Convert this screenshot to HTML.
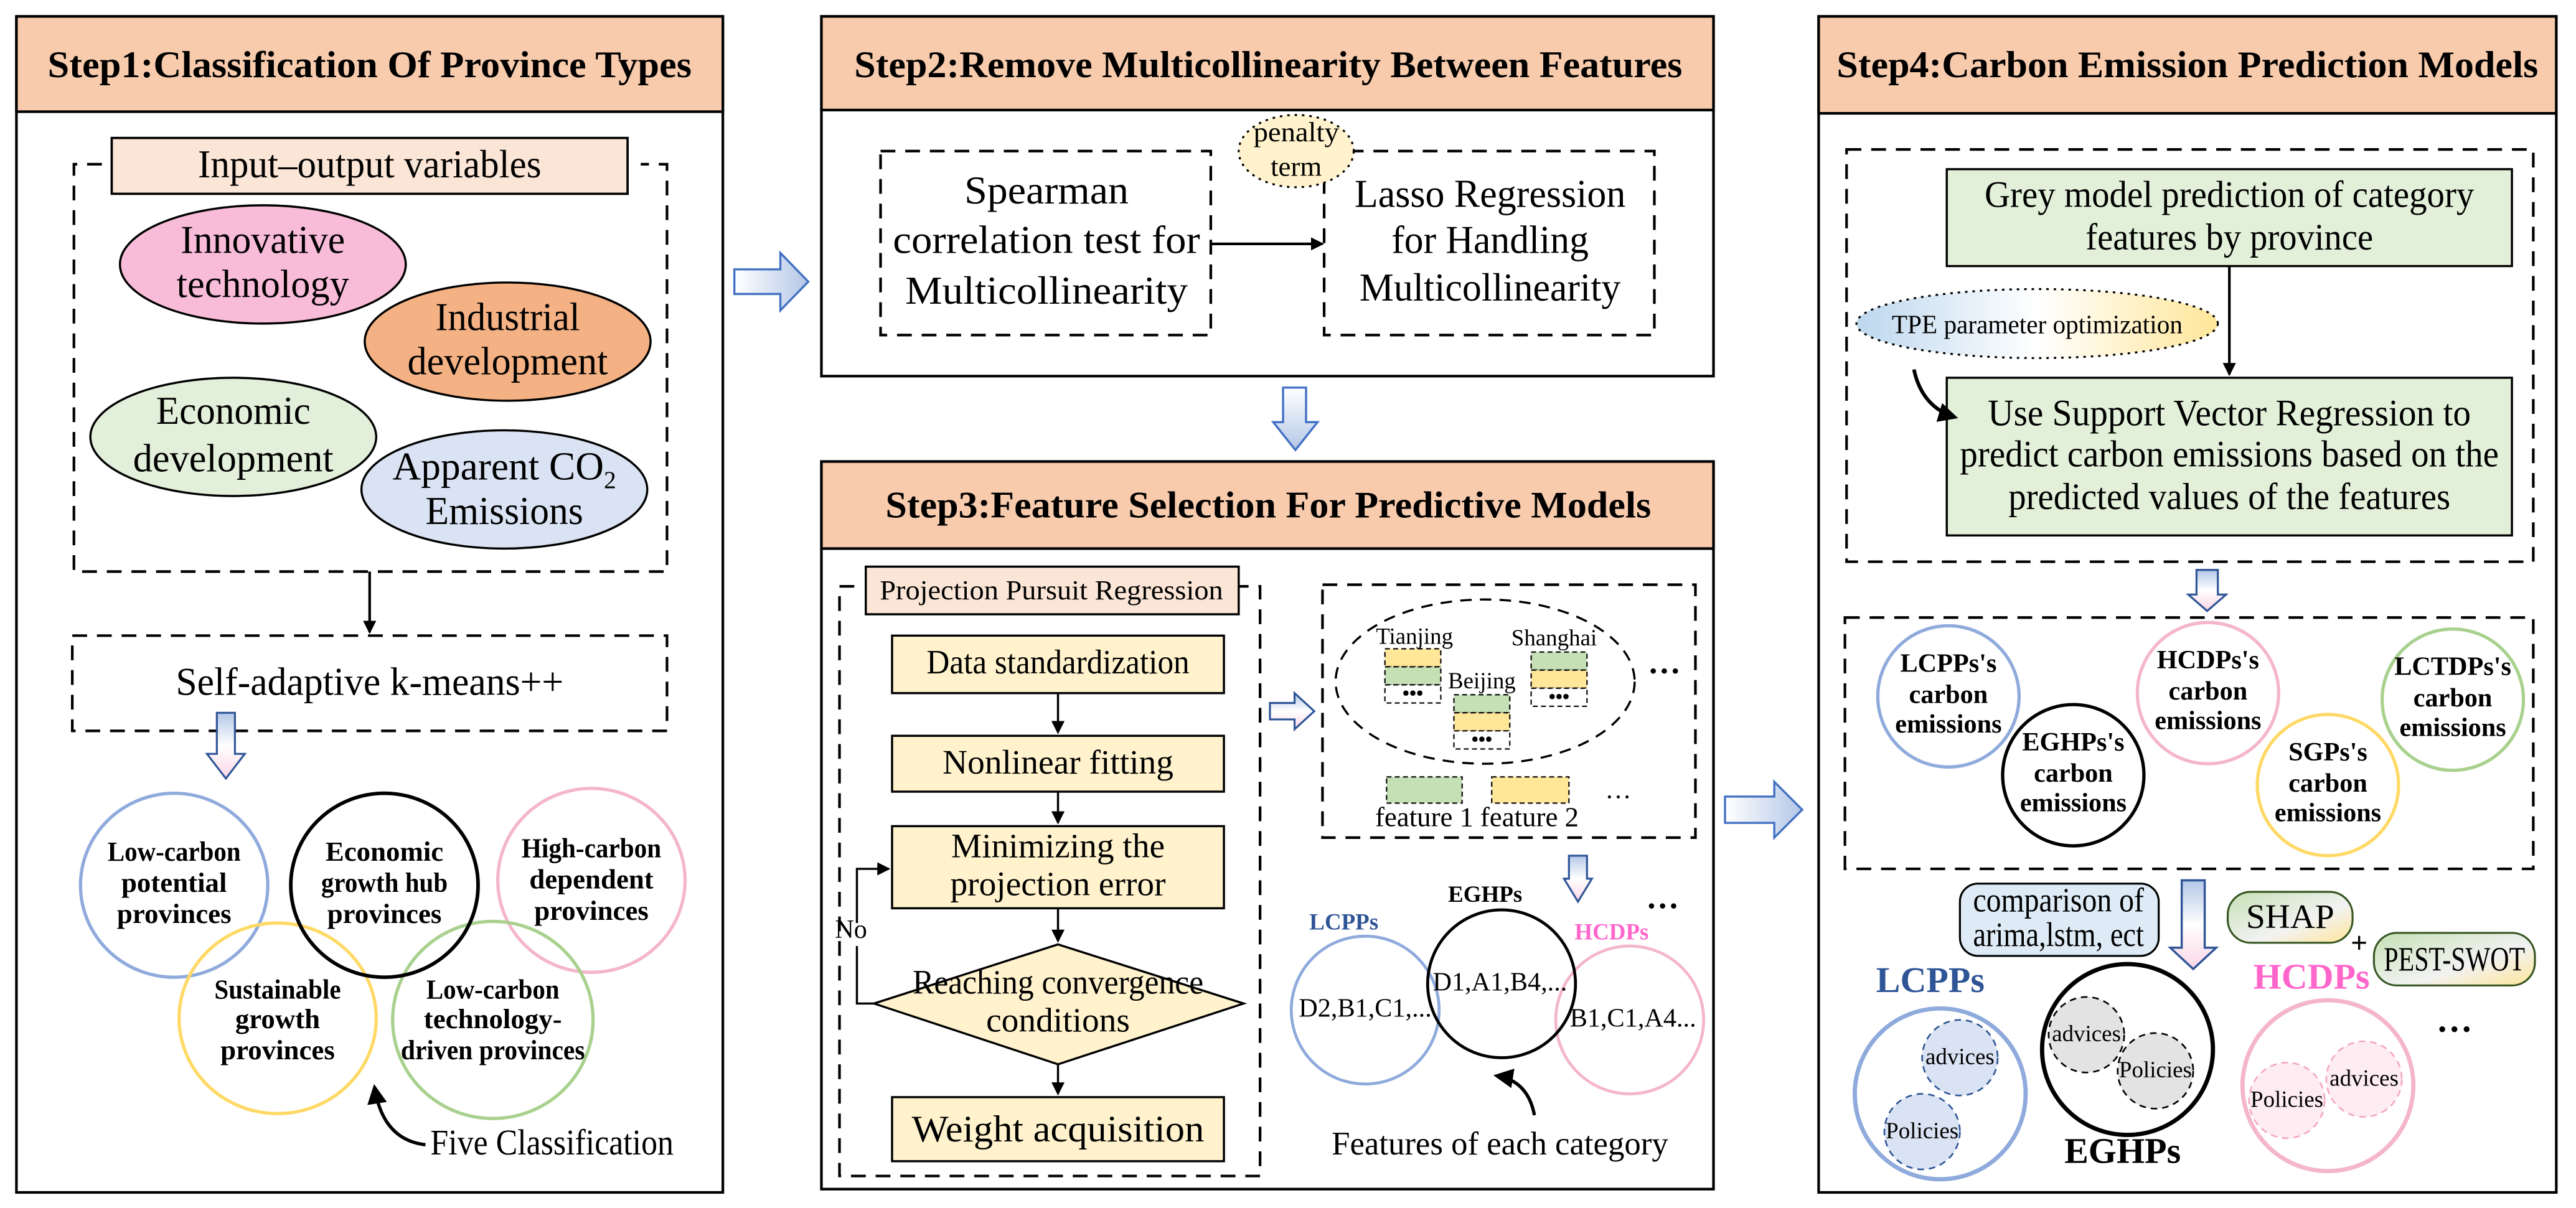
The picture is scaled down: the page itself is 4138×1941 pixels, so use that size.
<!DOCTYPE html>
<html><head><meta charset="utf-8"><style>html,body{margin:0;padding:0;background:#fff}svg,svg text{font-family:"Liberation Serif","Times New Roman",serif !important}</style></head><body>
<svg width="4138" height="1936" viewBox="0 0 1568 733.6" preserveAspectRatio="none" xmlns="http://www.w3.org/2000/svg" font-family="Liberation Serif, serif">
<defs>
<linearGradient id="ba" x1="0" y1="0" x2="1" y2="0"><stop offset="0" stop-color="#fff"/><stop offset="1" stop-color="#b4c7e7"/></linearGradient>
<linearGradient id="bd" x1="0" y1="0" x2="0" y2="1"><stop offset="0" stop-color="#fff"/><stop offset="1" stop-color="#b4c7e7"/></linearGradient>
<linearGradient id="pd" x1="0" y1="0" x2="0" y2="1"><stop offset="0" stop-color="#b4c7e7"/><stop offset="0.5" stop-color="#fff"/><stop offset="1" stop-color="#fbd5e5"/></linearGradient>
<linearGradient id="tpe" x1="0" y1="0" x2="1" y2="0"><stop offset="0" stop-color="#bdd7ee"/><stop offset="0.5" stop-color="#fff"/><stop offset="1" stop-color="#ffe699"/></linearGradient>
<linearGradient id="gy" x1="0" y1="0" x2="1" y2="1"><stop offset="0" stop-color="#c5e0b4"/><stop offset="0.6" stop-color="#f2f2f2"/><stop offset="1" stop-color="#ffe699"/></linearGradient>
<marker id="ah" markerWidth="8" markerHeight="8" refX="7" refY="4" orient="auto" markerUnits="userSpaceOnUse"><path d="M0,0 L8,4 L0,8 z" fill="#000"/></marker>
<marker id="ah2" markerWidth="12" markerHeight="12" refX="10" refY="6" orient="auto" markerUnits="userSpaceOnUse"><path d="M0,0 L12,6 L0,12 z" fill="#000"/></marker>
</defs>
<g stroke="#000" stroke-width="1.6" fill="none">
<rect x="10" y="10" width="430" height="716" fill="#fff"/>
<rect x="10" y="10" width="430" height="58" fill="#f8cbad"/>
<rect x="500" y="10" width="543" height="219" fill="#fff"/>
<rect x="500" y="10" width="543" height="57" fill="#f8cbad"/>
<rect x="500" y="281" width="543" height="443" fill="#fff"/>
<rect x="500" y="281" width="543" height="53" fill="#f8cbad"/>
<rect x="1107" y="10" width="449" height="716" fill="#fff"/>
<rect x="1107" y="10" width="449" height="59" fill="#f8cbad"/>
</g>
<g font-weight="bold" font-size="23">
<text x="29" y="47" textLength="392" lengthAdjust="spacingAndGlyphs">Step1:Classification Of Province Types</text>
<text x="520" y="47" textLength="504" lengthAdjust="spacingAndGlyphs">Step2:Remove Multicollinearity Between Features</text>
<text x="539" y="315" textLength="466" lengthAdjust="spacingAndGlyphs">Step3:Feature Selection For Predictive Models</text>
<text x="1118" y="47" textLength="427" lengthAdjust="spacingAndGlyphs">Step4:Carbon Emission Prediction Models</text>
</g>
<!-- Panel 1 -->
<g stroke="#000" stroke-width="1.6" fill="none" stroke-dasharray="9,6">
<path d="M62,100 H45 V348 H406 V100 H390"/>
<rect x="44" y="387" width="362" height="58"/>
</g>
<rect x="68" y="84" width="314" height="34" fill="#fbe5d6" stroke="#000" stroke-width="1.4"/>
<text x="225" y="108" font-size="24" text-anchor="middle" textLength="209" lengthAdjust="spacingAndGlyphs">Input–output variables</text>
<g stroke="#000" stroke-width="1.3">
<ellipse cx="160" cy="161" rx="87" ry="36" fill="#f9bcd8"/>
<ellipse cx="309" cy="208" rx="87" ry="36" fill="#f4b183"/>
<ellipse cx="142" cy="266" rx="87" ry="36" fill="#e2efda"/>
<ellipse cx="307" cy="298" rx="87" ry="36" fill="#dae3f3"/>
</g>
<g font-size="24" text-anchor="middle">
<text x="160" y="154" textLength="100" lengthAdjust="spacingAndGlyphs">Innovative</text><text x="160" y="181" textLength="105" lengthAdjust="spacingAndGlyphs">technology</text>
<text x="309" y="201" textLength="88" lengthAdjust="spacingAndGlyphs">Industrial</text><text x="309" y="228" textLength="122" lengthAdjust="spacingAndGlyphs">development</text>
<text x="142" y="258" textLength="94" lengthAdjust="spacingAndGlyphs">Economic</text><text x="142" y="287" textLength="122" lengthAdjust="spacingAndGlyphs">development</text>
<text x="307" y="292">Apparent CO<tspan font-size="15" dy="5">2</tspan></text><text x="307" y="319" textLength="96" lengthAdjust="spacingAndGlyphs">Emissions</text>
</g>
<line x1="225" y1="348" x2="225" y2="385" stroke="#000" stroke-width="1.6" marker-end="url(#ah)"/>
<text x="225" y="423" font-size="24" text-anchor="middle" textLength="236" lengthAdjust="spacingAndGlyphs">Self-adaptive k-means++</text>
<path d="M132,434 H143 V459 H149 L137.5,474 L126,459 H132 Z" fill="url(#pd)" stroke="#2f5597" stroke-width="1.2"/>
<g fill="none" stroke-width="2">
<ellipse cx="106" cy="539" rx="57" ry="56" stroke="#8faadc"/>
<ellipse cx="360" cy="536" rx="57" ry="56" stroke="#f4b6c8"/>
<ellipse cx="169" cy="620" rx="60" ry="58" stroke="#ffd966"/>
<ellipse cx="300" cy="621" rx="61" ry="60" stroke="#a9d18e"/>
<ellipse cx="234" cy="539" rx="57" ry="56" stroke="#000" stroke-width="2.2"/>
</g>
<g font-size="17" font-weight="bold" text-anchor="middle">
<text x="106" y="524" textLength="81" lengthAdjust="spacingAndGlyphs">Low-carbon</text><text x="106" y="543">potential</text><text x="106" y="562">provinces</text>
<text x="234" y="524">Economic</text><text x="234" y="543" textLength="77" lengthAdjust="spacingAndGlyphs">growth hub</text><text x="234" y="562">provinces</text>
<text x="360" y="522" textLength="85" lengthAdjust="spacingAndGlyphs">High-carbon</text><text x="360" y="541">dependent</text><text x="360" y="560">provinces</text>
<text x="169" y="608" textLength="77" lengthAdjust="spacingAndGlyphs">Sustainable</text><text x="169" y="626">growth</text><text x="169" y="645">provinces</text>
<text x="300" y="608" textLength="81" lengthAdjust="spacingAndGlyphs">Low-carbon</text><text x="300" y="626">technology-</text><text x="300" y="645" textLength="112" lengthAdjust="spacingAndGlyphs">driven provinces</text>
</g>
<path d="M259,697 Q233,694 228,662" stroke="#000" stroke-width="2" fill="none" marker-end="url(#ah2)"/>
<text x="262" y="703" font-size="22" textLength="148" lengthAdjust="spacingAndGlyphs">Five Classification</text>
<path d="M447,164 H475 V154 L492,171.5 L475,189 V179 H447 Z" fill="url(#ba)" stroke="#4472c4" stroke-width="1.3"/>
<path d="M1050,485 H1080 V476 L1097,493 L1080,510 V501 H1050 Z" fill="url(#ba)" stroke="#4472c4" stroke-width="1.3"/>
<path d="M781,236 H795 V257 H802 L788.5,274 L775,257 H781 Z" fill="url(#bd)" stroke="#4472c4" stroke-width="1.3"/>
<!-- Panel 2 -->
<g stroke="#000" stroke-width="1.6" fill="none" stroke-dasharray="9,6">
<rect x="536" y="92" width="201" height="112"/>
<rect x="806" y="92" width="201" height="112"/>
</g>
<line x1="737" y1="148.5" x2="805" y2="148.5" stroke="#000" stroke-width="1.6" marker-end="url(#ah)"/>
<ellipse cx="789" cy="92" rx="35" ry="22" fill="#fff2cc" stroke="#000" stroke-width="1.2" stroke-dasharray="1.5,3"/>
<text x="789" y="86" font-size="17" text-anchor="middle" textLength="52" lengthAdjust="spacingAndGlyphs">penalty</text><text x="789" y="107" font-size="17" text-anchor="middle">term</text>
<g font-size="24" text-anchor="middle">
<text x="637" y="124" textLength="100" lengthAdjust="spacingAndGlyphs">Spearman</text><text x="637" y="154" textLength="187" lengthAdjust="spacingAndGlyphs">correlation test for</text><text x="637" y="185" textLength="172" lengthAdjust="spacingAndGlyphs">Multicollinearity</text>
<text x="907" y="126" textLength="165" lengthAdjust="spacingAndGlyphs">Lasso Regression</text><text x="907" y="154" textLength="120" lengthAdjust="spacingAndGlyphs">for Handling</text><text x="907" y="183" textLength="159" lengthAdjust="spacingAndGlyphs">Multicollinearity</text>
</g>
<!-- Panel 3 -->
<path d="M520,357 H511 V716 H767 V357 H754" fill="none" stroke="#000" stroke-width="1.6" stroke-dasharray="9,6"/>
<rect x="527" y="345" width="227" height="29" fill="#fbe5d6" stroke="#000" stroke-width="1.3"/>
<text x="640" y="365" font-size="17" text-anchor="middle" textLength="209" lengthAdjust="spacingAndGlyphs">Projection Pursuit Regression</text>
<g fill="#fff2cc" stroke="#000" stroke-width="1.3">
<rect x="543" y="387" width="202" height="35"/>
<rect x="543" y="448" width="202" height="34"/>
<rect x="543" y="503" width="202" height="50"/>
<path d="M644,575 L757,611 L644,648 L532,611 Z"/>
<rect x="543" y="668" width="202" height="39"/>
</g>
<g stroke="#000" stroke-width="1.3" fill="none">
<line x1="644" y1="422" x2="644" y2="446" marker-end="url(#ah)"/>
<line x1="644" y1="482" x2="644" y2="501" marker-end="url(#ah)"/>
<line x1="644" y1="553" x2="644" y2="573" marker-end="url(#ah)"/>
<line x1="644" y1="648" x2="644" y2="666" marker-end="url(#ah)"/>
<path d="M532,611 H521.6 V576"/>
<path d="M521.6,562 V529 H541" marker-end="url(#ah)"/>
</g>
<g font-size="21" text-anchor="middle">
<text x="644" y="410" textLength="160" lengthAdjust="spacingAndGlyphs">Data standardization</text>
<text x="644" y="471">Nonlinear fitting</text>
<text x="644" y="522">Minimizing the</text><text x="644" y="545">projection error</text>
<text x="644" y="605" textLength="177" lengthAdjust="spacingAndGlyphs">Reaching convergence</text><text x="644" y="628">conditions</text>
<text x="644" y="695" font-size="23" textLength="178" lengthAdjust="spacingAndGlyphs">Weight acquisition</text>
<text x="518" y="571" font-size="16" text-anchor="middle">No</text>
</g>
<path d="M773,428 H788 V422 L800,433 L788,444 V438 H773 Z" fill="url(#pd)" stroke="#2f5597" stroke-width="1.2"/>
<rect x="805" y="356" width="227" height="154" fill="none" stroke="#000" stroke-width="1.6" stroke-dasharray="9,6"/>
<ellipse cx="904" cy="415" rx="91" ry="50" fill="none" stroke="#000" stroke-width="1.3" stroke-dasharray="7,5"/>
<g font-size="14" text-anchor="middle"><text x="861" y="392">Tianjing</text><text x="902" y="419">Beijing</text><text x="946" y="393">Shanghai</text></g>
<g stroke="#000" stroke-width="0.8" stroke-dasharray="3,2">
<rect x="843" y="395" width="34" height="11" fill="#ffe699"/><rect x="843" y="406" width="34" height="11" fill="#c5e0b4"/><rect x="843" y="417" width="34" height="11" fill="#fff"/>
<rect x="885" y="423" width="34" height="11" fill="#c5e0b4"/><rect x="885" y="434" width="34" height="11" fill="#ffe699"/><rect x="885" y="445" width="34" height="11" fill="#fff"/>
<rect x="932" y="397" width="34" height="11" fill="#c5e0b4"/><rect x="932" y="408" width="34" height="11" fill="#ffe699"/><rect x="932" y="419" width="34" height="11" fill="#fff"/>
<rect x="844" y="473" width="46" height="16" fill="#c5e0b4"/><rect x="908" y="473" width="47" height="16" fill="#ffe699"/>
</g>
<g font-size="12" font-weight="bold" text-anchor="middle"><text x="860" y="426">•••</text><text x="902" y="454">•••</text><text x="949" y="428">•••</text></g>
<text x="1013" y="410" font-size="20" font-weight="bold" text-anchor="middle">…</text>
<text x="985" y="486" font-size="16" text-anchor="middle">…</text>
<g font-size="17" text-anchor="middle"><text x="867" y="503">feature 1</text><text x="931" y="503">feature 2</text></g>
<path d="M955,521 H966 V535 H969 L960.5,549 L952,535 H955 Z" fill="url(#pd)" stroke="#2f5597" stroke-width="1.2"/>
<g fill="none" stroke-width="1.8">
<circle cx="831" cy="615" r="45" stroke="#8faadc"/>
<circle cx="992" cy="621" r="45" stroke="#f4b6c8"/>
<circle cx="914" cy="599" r="45" stroke="#000"/>
</g>
<g font-size="14" font-weight="bold" text-anchor="middle">
<text x="818" y="566" style="fill:#2f5597">LCPPs</text><text x="904" y="549">EGHPs</text><text x="981" y="572" style="fill:#ff66cc">HCDPs</text>
</g>
<text x="1012" y="553" font-size="20" font-weight="bold" text-anchor="middle">…</text>
<g font-size="16" text-anchor="middle"><text x="831" y="619">D2,B1,C1,...</text><text x="913" y="603">D1,A1,B4,...</text><text x="994" y="625">B1,C1,A4...</text></g>
<path d="M934,679 Q930,658 911,655" stroke="#000" stroke-width="2" fill="none" marker-end="url(#ah2)"/>
<text x="913" y="703" font-size="20" text-anchor="middle">Features of each category</text>
<!-- Panel 4 -->
<g stroke="#000" stroke-width="1.6" fill="none" stroke-dasharray="9,6">
<rect x="1124" y="91" width="418" height="251"/>
<rect x="1123" y="376" width="419" height="153"/>
</g>
<rect x="1185" y="103" width="344" height="59" fill="#e2f0d9" stroke="#000" stroke-width="1.3"/>
<rect x="1185" y="230" width="344" height="96" fill="#e2f0d9" stroke="#000" stroke-width="1.3"/>
<g font-size="23" text-anchor="middle">
<text x="1357" y="126" textLength="298" lengthAdjust="spacingAndGlyphs">Grey model prediction of category</text><text x="1357" y="152" textLength="175" lengthAdjust="spacingAndGlyphs">features by province</text>
<text x="1357" y="259" textLength="294" lengthAdjust="spacingAndGlyphs">Use Support Vector Regression to</text><text x="1357" y="284" textLength="328" lengthAdjust="spacingAndGlyphs">predict carbon emissions based on the</text><text x="1357" y="310" textLength="269" lengthAdjust="spacingAndGlyphs">predicted values of the features</text>
</g>
<line x1="1357" y1="162" x2="1357" y2="228" stroke="#000" stroke-width="1.6" marker-end="url(#ah)"/>
<ellipse cx="1240" cy="197" rx="110" ry="21" fill="url(#tpe)" stroke="#000" stroke-width="1.2" stroke-dasharray="1.5,3"/>
<text x="1240" y="203" font-size="16" text-anchor="middle" textLength="177" lengthAdjust="spacingAndGlyphs">TPE parameter optimization</text>
<path d="M1165,225 Q1170,248 1190,254" stroke="#000" stroke-width="2.2" fill="none" marker-end="url(#ah2)"/>
<path d="M1337,347 H1350 V362 H1355 L1343.5,372 L1332,362 H1337 Z" fill="url(#pd)" stroke="#2f5597" stroke-width="1.2"/>
<g fill="#fff" stroke-width="2">
<circle cx="1186" cy="424" r="43" stroke="#8faadc"/>
<circle cx="1344" cy="422" r="43" stroke="#f4b6c8"/>
<circle cx="1417" cy="478" r="43" stroke="#ffd966"/>
<circle cx="1493" cy="426" r="43" stroke="#a9d18e"/>
<circle cx="1262" cy="472" r="43" stroke="#000"/>
</g>
<g font-size="16" font-weight="bold" text-anchor="middle">
<text x="1186" y="409">LCPPs's</text><text x="1186" y="428">carbon</text><text x="1186" y="446">emissions</text>
<text x="1262" y="457">EGHPs's</text><text x="1262" y="476">carbon</text><text x="1262" y="494">emissions</text>
<text x="1344" y="407">HCDPs's</text><text x="1344" y="426">carbon</text><text x="1344" y="444">emissions</text>
<text x="1417" y="463">SGPs's</text><text x="1417" y="482">carbon</text><text x="1417" y="500">emissions</text>
<text x="1493" y="411">LCTDPs's</text><text x="1493" y="430">carbon</text><text x="1493" y="448">emissions</text>
</g>
<path d="M1328,536 H1342 V577 H1349 L1335,590 L1321,577 H1328 Z" fill="url(#pd)" stroke="#2f5597" stroke-width="1.3"/>
<rect x="1193" y="538" width="121" height="44" rx="11" fill="#deebf7" stroke="#000" stroke-width="1.2"/>
<text x="1253" y="555" font-size="21" text-anchor="middle" textLength="104" lengthAdjust="spacingAndGlyphs">comparison of</text><text x="1253" y="576" font-size="21" text-anchor="middle" textLength="104" lengthAdjust="spacingAndGlyphs">arima,lstm, ect</text>
<rect x="1356" y="543" width="76" height="31" rx="14" fill="url(#gy)" stroke="#375623" stroke-width="1.2"/>
<text x="1394" y="565" font-size="21" text-anchor="middle">SHAP</text>
<rect x="1445" y="568" width="98" height="32" rx="14" fill="url(#gy)" stroke="#375623" stroke-width="1.2"/>
<text x="1494" y="591" font-size="21" text-anchor="middle" textLength="86" lengthAdjust="spacingAndGlyphs">PEST-SWOT</text>
<text x="1436" y="580" font-size="18" font-weight="bold" text-anchor="middle">+</text>
<text x="1175" y="604" font-size="22" font-weight="bold" text-anchor="middle" style="fill:#2f5597">LCPPs</text>
<text x="1407" y="602" font-size="22" font-weight="bold" text-anchor="middle" style="fill:#ff66cc">HCDPs</text>
<text x="1292" y="708" font-size="22" font-weight="bold" text-anchor="middle">EGHPs</text>
<text x="1494" y="628" font-size="22" font-weight="bold" text-anchor="middle">…</text>
<ellipse cx="1181" cy="666" rx="52" ry="52" fill="#fff" stroke="#8faadc" stroke-width="2.6"/>
<ellipse cx="1295" cy="639" rx="52" ry="52" fill="#fff" stroke="#000" stroke-width="2.6"/>
<ellipse cx="1417" cy="661" rx="52" ry="52" fill="#fff" stroke="#f4b6c8" stroke-width="2.6"/>
<g stroke-width="1" stroke-dasharray="4,3">
<circle cx="1193" cy="644" r="23" fill="#dae3f3" stroke="#2f5597"/>
<circle cx="1170" cy="689" r="23" fill="#dae3f3" stroke="#2f5597"/>
<circle cx="1270" cy="630" r="23" fill="#e3e3e3" stroke="#000"/>
<circle cx="1312" cy="652" r="23" fill="#e3e3e3" stroke="#000"/>
<circle cx="1392" cy="670" r="23" fill="#fdecf2" stroke="#f4a6c4"/>
<circle cx="1439" cy="657" r="23" fill="#fdecf2" stroke="#f4a6c4"/>
</g>
<g font-size="14" text-anchor="middle">
<text x="1193" y="648">advices</text><text x="1170" y="693">Policies</text>
<text x="1270" y="634">advices</text><text x="1312" y="656">Policies</text>
<text x="1392" y="674">Policies</text><text x="1439" y="661">advices</text>
</g>
</svg>
</body></html>
